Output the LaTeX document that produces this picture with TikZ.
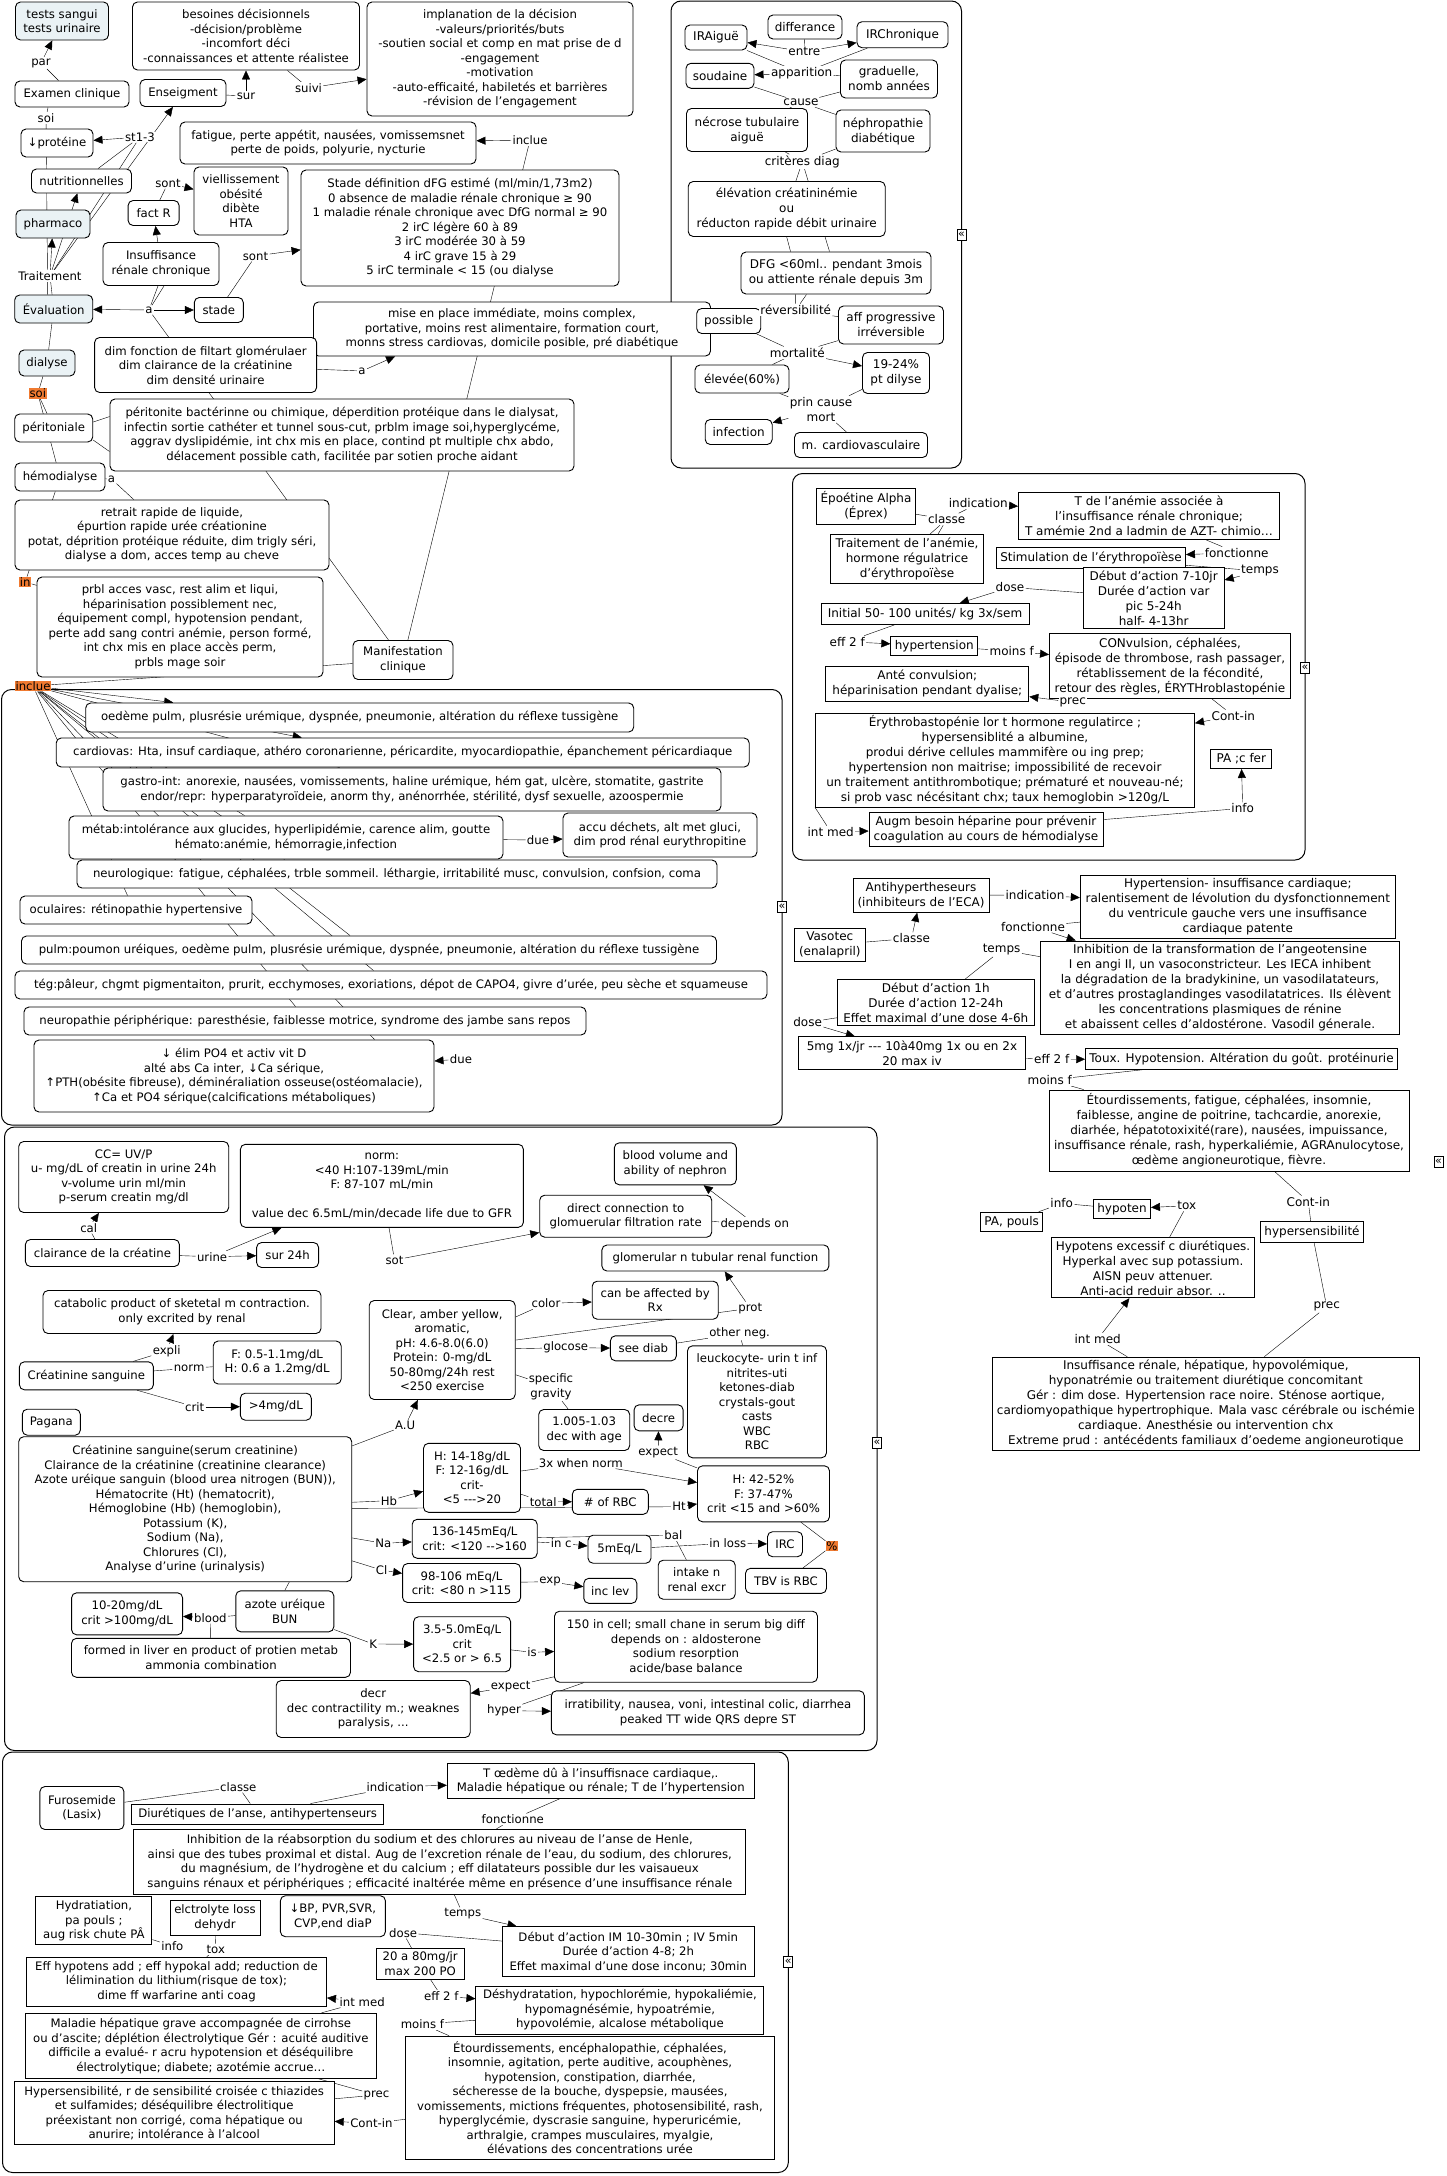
\documentclass[tikz,border=0pt]{standalone}
\usepackage{fontspec}
\setmainfont{DejaVu Sans}
\usetikzlibrary{arrows.meta}
\definecolor{evalfill}{RGB}{234,242,245}
\definecolor{orangehl}{RGB}{240,122,48}
\newcommand{\fA}{\fontsize{11.7}{14.5}\selectfont}
\newcommand{\fB}{\fontsize{12}{15}\selectfont}
\pgfdeclarelayer{panel}
\pgfdeclarelayer{edges}
\pgfsetlayers{panel,edges,main}
\tikzset{
  cpt/.style={draw, rounded corners=5pt, fill=white, align=center, inner xsep=3pt, inner ysep=2pt, line width=0.9pt, font=\fA},
  cptv/.style={cpt, font=\fB},
  sqa/.style={cpt, rounded corners=0pt},
  sqv/.style={cpt, rounded corners=0pt, font=\fB},
  grey/.style={fill=evalfill},
  sz/.style 2 args={minimum width=#1pt, minimum height=#2pt},
  lbl/.style={fill=white, inner sep=1pt, align=center, font=\fA},
  lblv/.style={lbl, font=\fB},
  hl/.style={fill=orangehl, inner sep=0.6pt, font=\fA},
  arr/.style={-{Triangle[length=9pt,width=8pt]}},
  panel/.style={draw, rounded corners=10pt, line width=1pt},
  coll/.style={draw, fill=white, line width=0.7pt, inner sep=0.5pt, minimum width=9pt, minimum height=11pt, font=\fontsize{11}{11}\selectfont},
}

\begin{document}
\begin{tikzpicture}[x=1pt, y=-1pt, line width=0.8pt]
\useasboundingbox (0,0) rectangle (1447,2176);

% evaluation / traitement
\node[cpt, grey, sz={93}{38}] (tests) at (62,21) {tests sangui\\tests urinaire};
\node[cpt, sz={227}{68}] (besoin) at (246,36) {besoines décisionnels\\-décision/problème\\-incomfort déci\\-connaissances et attente réalistee};
\node[cpt, sz={266}{114}] (implan) at (500,59) {implanation de la décision\\-valeurs/priorités/buts\\-soutien social et comp en mat prise de d\\-engagement\\-motivation\\-auto-efficaité, habiletés et barrières\\-révision de l'engagement};
\node[cpt, sz={114}{26}] (exam) at (72,94) {Examen clinique};
\node[cpt, sz={86}{27}] (enseig) at (183,93) {Enseigment};
\node[cpt, sz={72}{28}] (prot) at (57,143) {↓protéine};
\node[cpt, sz={100}{24}] (nutri) at (81.5,181) {nutritionnelles};
\node[cpt, grey, sz={74}{28}] (pharm) at (53,224) {pharmaco};
\node[cpt, sz={51}{25}] (factR) at (153.6,213) {fact R};
\node[cpt, sz={94}{68}] (viel) at (241,201) {viellissement\\obésité\\dibète\\HTA};
\node[cpt, sz={296}{42}] (fatigue) at (328,143) {fatigue, perte appétit, nausées, vomissemsnet\\perte de poids, polyurie, nycturie};
\node[cpt, sz={318}{116}] (stadedef) at (460,228) {Stade définition dFG estimé (ml/min/1,73m2)\\0 absence de maladie rénale chronique ≥ 90\\1 maladie rénale chronique avec DfG normal ≥ 90\\2 irC légère 60 à 89\\3 irC modérée 30 à 59\\4 irC grave 15 à 29\\5 irC terminale < 15 (ou dialyse};
\node[cpt, sz={116}{43}] (insuf) at (161,264) {Insuffisance\\rénale chronique};
\node[cpt, grey, sz={78}{28}] (eval) at (53.7,309) {Évaluation};
\node[cpt, sz={49}{25}] (stade) at (218.8,310) {stade};
\node[cpt, sz={397}{54}] (mise) at (512,329) {mise en place immédiate, moins complex,\\portative, moins rest alimentaire, formation court,\\monns stress cardiovas, domicile posible, pré diabétique};
\node[cpt, sz={222}{55}] (dimf) at (205.6,365) {dim fonction de filtart glomérulaer\\dim clairance de la créatinine\\dim densité urinaire};
\node[cpt, grey, sz={56}{26}] (dialyse) at (47,363) {dialyse};
\node[cpt, sz={78}{28}] (perito) at (53.7,428) {péritoniale};
\node[cpt, sz={464}{72}] (peri2) at (342,435) {péritonite bactérinne ou chimique, déperdition protéique dans le dialysat,\\infectin sortie cathéter et tunnel sous-cut, prblm image soi,hyperglycéme,\\aggrav dyslipidémie, int chx mis en place, contind pt multiple chx abdo,\\délacement possible cath, facilitée par sotien proche aidant};
\node[cpt, sz={90}{28}] (hemo) at (60,477) {hémodialyse};
\node[cpt, sz={314}{70}] (retrait) at (172,535) {retrait rapide de liquide,\\épurtion rapide urée créationine\\potat, déprition protéique réduite, dim trigly séri,\\dialyse a dom, acces temp au cheve};
\node[cpt, sz={286}{100}] (prbl) at (180,627) {prbl acces vasc, rest alim et liqui,\\héparinisation possiblement nec,\\équipement compl, hypotension pendant,\\perte add sang contri anémie, person formé,\\int chx mis en place accès perm,\\prbls mage soir};
\node[cpt, sz={100}{39}] (manif) at (403,660) {Manifestation\\clinique};
\node[lbl] (par) at (41,63) {par};
\node[lbl] (soi) at (46,118) {soi};
\node[lbl] (sur) at (246,96) {sur};
\node[lbl] (suivi) at (308.5,88) {suivi};
\node[lbl] (st13) at (140,137) {st1-3};
\node[lbl] (sontA) at (168,183) {sont};
\node[lbl] (sontB) at (255.5,256) {sont};
\node[lbl] (inclA) at (530,140) {inclue};
\node[lbl] (trait) at (50,276) {Traitement};
\node[lbl] (aA) at (149,310) {a};
\node[lbl] (aB) at (362,371) {a};
\node[lbl] (aC) at (111.5,479) {a};
\node[hl] (soiH) at (37.8,393.5) {soi};
\node[hl] (inH) at (25.3,582) {in};
\node[hl] (inclH) at (33,686) {inclue};

% manifestations
\node[cpt, sz={548}{29}] (oedeme) at (359.7,717.5) {oedème pulm, plusrésie urémique, dyspnée, pneumonie, altération du réflexe tussigène};
\node[cpt, sz={693}{29}] (cardio) at (402.7,752.5) {cardiovas: Hta, insuf cardiaque, athéro coronarienne, péricardite, myocardiopathie, épanchement péricardiaque};
\node[cpt, sz={618}{43}] (gastro) at (412,789.5) {gastro-int: anorexie, nausées, vomissements, haline urémique, hém gat, ulcère, stomatite, gastrite\\endor/repr: hyperparatyroïdeie, anorm thy, anénorrhée, stérilité, dysf sexuelle, azoospermie};
\node[cpt, sz={434}{43}] (metab) at (286,837.5) {métab:intolérance aux glucides, hyperlipidémie, carence alim, goutte\\hémato:anémie, hémorragie,infection};
\node[cpt, sz={194}{44}] (accu) at (660,835) {accu déchets, alt met gluci,\\dim prod rénal eurythropitine};
\node[cpt, sz={640}{28}] (neuro) at (397,874) {neurologique: fatigue, céphalées, trble sommeil. léthargie, irritabilité musc, convulsion, confsion, coma};
\node[cpt, sz={232}{28}] (ocul) at (136,910) {oculaires: rétinopathie hypertensive};
\node[cpt, sz={695}{28}] (pulm) at (369,950) {pulm:poumon uréiques, oedème pulm, plusrésie urémique, dyspnée, pneumonie, altération du réflexe tussigène};
\node[cpt, sz={752}{28}] (teg) at (391,985) {tég:pâleur, chgmt pigmentaiton, prurit, ecchymoses, exoriations, dépot de CAPO4, givre d'urée, peu sèche et squameuse};
\node[cpt, sz={562}{28}] (neurop) at (305,1021) {neuropathie périphérique: paresthésie, faiblesse motrice, syndrome des jambe sans repos};
\node[cpt, sz={400}{72}] (po4) at (234,1076) {↓ élim PO4 et activ vit D\\alté abs Ca inter, ↓Ca sérique,\\↑PTH(obésite fibreuse), déminéraliation osseuse(ostéomalacie),\\↑Ca et PO4 sérique(calcifications métaboliques)};
\node[lbl] (dueA) at (538,840) {due};
\node[lbl] (dueB) at (461,1059) {due};

% IR aigue / chronique
\node[cptv, sz={62}{25}] (IRA) at (716,37.5) {IRAiguë};
\node[cptv, sz={74}{24}] (differ) at (805,27) {differance};
\node[cptv, sz={91}{26}] (IRC) at (902.5,34.7) {IRChronique};
\node[cptv, sz={68}{25}] (soud) at (720,75.8) {soudaine};
\node[cptv, sz={97}{38}] (gradu) at (889,79) {graduelle,\\nomb années};
\node[cptv, sz={121}{43}] (necro) at (747,130) {nécrose tubulaire\\aiguë};
\node[cptv, sz={94}{42}] (nephro) at (883,131) {néphropathie\\diabétique};
\node[cptv, sz={197}{55}] (elev) at (786.7,209) {élévation créatininémie\\ou\\réducton rapide débit urinaire};
\node[cptv, sz={190}{42}] (dfg) at (836,273) {DFG <60ml.. pendant 3mois\\ou attiente rénale depuis 3m};
\node[cptv, sz={64}{25}] (possi) at (728.7,321) {possible};
\node[cptv, sz={105}{38}] (aff) at (891,325) {aff progressive\\irréversible};
\node[cptv, sz={94}{28}] (elevee) at (742,379) {élevée(60\%)};
\node[cptv, sz={67}{41}] (p1924) at (896,373) {19-24\%\\pt dilyse};
\node[cptv, sz={67}{25}] (infec) at (738.7,432) {infection};
\node[cptv, sz={133}{25}] (mcard) at (861,445) {m. cardiovasculaire};
\node[lblv] (entre) at (804.3,51.7) {entre};
\node[lblv] (appar) at (801.7,73.3) {apparition};
\node[lblv] (cause) at (801,102.3) {cause};
\node[lblv] (critC) at (802.3,161.7) {critères diag};
\node[lblv] (rever) at (795.7,310) {réversibilité};
\node[lblv] (mort) at (797.3,352.7) {mortalité};
\node[lblv] (prin) at (821,409.3) {prin cause\\mort};

% epoetine
\node[sqv, sz={99}{36}] (epo) at (866,506) {Époétine Alpha\\(Éprex)};
\node[sqv, sz={153}{49}] (eptrait) at (907,559) {Traitement de l’anémie,\\hormone régulatrice\\d’érythropoïèse};
\node[sqv, sz={261}{47}] (tanem) at (1149,516) {T de l’anémie associée à\\l’insuffisance rénale chronique;\\T amémie 2nd a ladmin de AZT- chimio…};
\node[sqv, sz={189}{21}] (stim) at (1091,558) {Stimulation de l’érythropoïèse};
\node[sqv, sz={141}{61}] (debut) at (1153.7,598) {Début d’action  7-10jr\\Durée d’action  var\\pic 5-24h\\half- 4-13hr};
\node[sqv, sz={208}{21}] (init) at (925,614) {Initial 50- 100 unités/ kg 3x/sem};
\node[sqv, sz={87}{19}] (hypert) at (934.3,646) {hypertension};
\node[sqv, sz={241}{65}] (convul) at (1170,666) {CONvulsion, céphalées,\\épisode de thrombose, rash passager,\\rétablissement de la fécondité,\\retour des règles, ÉRYTHroblastopénie};
\node[sqv, sz={203}{35}] (ante) at (927.3,683.5) {Anté convulsion;\\héparinisation pendant dyalise;};
\node[sqv, sz={379}{94}] (erythro) at (1005,760) {Érythrobastopénie lor t hormone regulatirce ;\\hypersensiblité a albumine,\\produi dérive cellules mammifère ou ing prep;\\hypertension non maitrise; impossibilité de recevoir\\un traitement antithrombotique; prématuré et nouveau-né;\\si prob vasc nécésitant chx; taux hemoglobin >120g/L};
\node[sqv, sz={61}{19}] (pafer) at (1241.3,759) {PA ;c fer};
\node[sqv, sz={234}{34}] (augm) at (986,829) {Augm besoin héparine pour prévenir\\coagulation au cours de hémodialyse};
\node[lblv] (classeD) at (946.7,519.3) {classe};
\node[lblv] (indicD) at (978.3,503.3) {indication};
\node[lblv] (fonctD) at (1236.7,552.7) {fonctionne};
\node[lblv] (tempsD) at (1260,571) {temps};
\node[lblv] (doseD) at (1010,587.3) {dose};
\node[lblv] (eff2fD) at (847.3,641.7) {eff 2 f};
\node[lblv] (moinsD) at (1011.7,651) {moins f};
\node[lblv] (precD) at (1072.7,702.3) {prec};
\node[lblv] (continD) at (1233.3,715.7) {Cont-in};
\node[lblv] (intmedD) at (830.7,831.7) {int med};
\node[lblv] (infoD) at (1242.7,808.3) {info};

% vasotec
\node[sqv, sz={136}{34}] (antih) at (921,895.3) {Antihypertheseurs\\(inhibiteurs de l’ECA)};
\node[sqv, sz={315}{63}] (hypten) at (1237.8,906.7) {Hypertension- insuffisance cardiaque;\\ralentisement de lévolution du dysfonctionnement\\du ventricule gauche vers une insuffisance\\cardiaque patente};
\node[sqv, sz={71}{33}] (vaso) at (829.8,945) {Vasotec\\(enalapril)};
\node[sqv, sz={359}{93}] (inhib) at (1220,987.5) {Inhibition de la transformation de l’angeotensine\\I en angi II, un vasoconstricteur. Les IECA inhibent\\la dégradation de la bradykinine, un vasodilatateurs,\\et d’autres prostaglandinges vasodilatatrices. Ils élèvent\\les concentrations plasmiques de rénine\\et abaissent celles d’aldostérone. Vasodil génerale.};
\node[sqv, sz={197}{46}] (debut2) at (935.8,1002.5) {Début d’action 1h\\Durée d’action  12-24h\\Effet maximal d’une dose  4-6h};
\node[sqv, sz={227}{33}] (m5mg) at (912,1053.3) {5mg 1x/jr -{}-{}- 10à40mg 1x ou en 2x\\20 max iv};
\node[sqv, sz={312}{21}] (toux) at (1241.5,1058.8) {Toux. Hypotension. Altération du goût. protéinurie};
\node[sqv, sz={360}{81}] (etourd) at (1229,1130.5) {Étourdissements, fatigue, céphalées, insomnie,\\faiblesse, angine de poitrine, tachcardie, anorexie,\\diarhée, hépatotoxixité(rare), nausées, impuissance,\\insuffisance rénale, rash, hyperkaliémie, AGRAnulocytose,\\œdème angioneurotique, fièvre.};
\node[sqv, sz={103}{21}] (hypers) at (1312,1232) {hypersensibilité};
\node[sqv, sz={57}{19}] (hypoten) at (1122,1208.8) {hypoten};
\node[sqv, sz={62}{19}] (papouls) at (1011.7,1221.7) {PA, pouls};
\node[sqv, sz={203}{60}] (hypotens) at (1153,1267.8) {Hypotens excessif c diurétiques.\\Hyperkal avec sup potassium.\\AISN peuv attenuer.\\Anti-acid reduir absor. ..};
\node[sqv, sz={427}{93}] (insuffE) at (1205.8,1403.7) {Insuffisance rénale, hépatique, hypovolémique,\\hyponatrémie ou traitement diurétique concomitant\\Gér : dim dose. Hypertension race noire. Sténose aortique,\\cardiomyopathique hypertrophique. Mala vasc cérébrale ou ischémie\\cardiaque. Anesthésie ou intervention chx\\Extreme prud : antécédents familiaux d’oedeme angioneurotique};
\node[lblv] (indicE) at (1035,895) {indication};
\node[lblv] (classeE) at (911.5,938.3) {classe};
\node[lblv] (fonctE) at (1033,926.7) {fonctionne};
\node[lblv] (tempsE) at (1001.6,950) {temps};
\node[lblv] (doseE) at (807.6,1022.3) {dose};
\node[lblv] (eff2fE) at (1051.8,1059.3) {eff 2 f};
\node[lblv] (moinsE) at (1049.7,1080) {moins f};
\node[lblv] (continE) at (1308.3,1201.7) {Cont-in};
\node[lblv] (precE) at (1326.7,1306.7) {prec};
\node[lblv] (toxE) at (1186.7,1205.7) {tox};
\node[lblv] (infoE) at (1061.7,1203.3) {info};
\node[lblv] (intmedE) at (1097.7,1339) {int med};

% tests de laboratoire
\node[cpt, sz={210}{71}] (cc) at (123.7,1177) {CC= UV/P\\u- mg/dL of creatin in urine 24h\\v-volume urin ml/min\\p-serum creatin mg/dl};
\node[cpt, sz={154}{27}] (clair) at (102.4,1253) {clairance de la créatine};
\node[cpt, sz={62}{25}] (sur24) at (287.6,1255) {sur 24h};
\node[cpt, sz={283}{83}] (normb) at (381.9,1185.8) {norm:\\<40 H:107-139mL/min\\F: 87-107 mL/min\\[14.5pt]value dec 6.5mL/min/decade life due to GFR};
\node[cpt, sz={172}{42}] (direct) at (625.7,1216.2) {direct connection to\\glomuerular filtration rate};
\node[cpt, sz={122}{42}] (bloodv) at (675.3,1163.8) {blood volume and\\ability of nephron};
\node[cpt, sz={227}{26}] (glom) at (715.4,1258) {glomerular n tubular renal function};
\node[cpt, sz={278}{43}] (catab) at (182,1312) {catabolic product of sketetal m contraction.\\only excrited by renal};
\node[cpt, sz={134}{28}] (creat) at (86.4,1375.8) {Créatinine sanguine};
\node[cpt, sz={128}{43}] (fbox) at (277.2,1362.5) {F: 0.5-1.1mg/dL\\H: 0.6 a 1.2mg/dL};
\node[cpt, sz={71}{27}] (gt4) at (275.8,1406.7) {>4mg/dL};
\node[cpt, sz={58}{26}] (pagana) at (51.3,1422.2) {Pagana};
\node[cpt, sz={146}{99}] (clear) at (442.2,1350) {Clear, amber yellow,\\aromatic,\\pH: 4.6-8.0(6.0)\\Protein: 0-mg/dL\\50-80mg/24h rest\\<250 exercise};
\node[cpt, sz={126}{38}] (canbe) at (655.2,1300.2) {can be affected by\\Rx};
\node[cpt, sz={66}{25}] (seediab) at (643.4,1348.3) {see diab};
\node[cpt, sz={139}{112}] (leuck) at (757,1401.8) {leuckocyte- urin t inf\\nitrites-uti\\ketones-diab\\crystals-gout\\casts\\WBC\\RBC};
\node[cpt, sz={91}{41}] (s1005) at (584.2,1430) {1.005-1.03\\dec with age};
\node[cpt, sz={49}{26}] (decre) at (658.6,1417.8) {decre};
\node[cpt, sz={333}{145}] (big) at (185.2,1509.2) {Créatinine sanguine(serum creatinine)\\Clairance de la créatinine (creatinine clearance)\\Azote uréique sanguin (blood urea nitrogen (BUN)),\\Hématocrite (Ht) (hematocrit),\\Hémoglobine (Hb) (hemoglobin),\\Potassium (K),\\Sodium (Na),\\Chlorures (Cl),\\Analyse d’urine (urinalysis)};
\node[cpt, sz={97}{69}] (h14) at (472,1477.8) {H: 14-18g/dL\\F: 12-16g/dL\\crit-\\<5 -{}-{}->20};
\node[cpt, sz={132}{56}] (h42) at (763.5,1493.8) {H: 42-52\%\\F: 37-47\%\\crit <15 and >60\%};
\node[cpt, sz={76}{25}] (rbc) at (610.3,1501.8) {\# of RBC};
\node[cpt, sz={81}{25}] (tbv) at (786,1580.8) {TBV is RBC};
\node[cpt, sz={125}{39}] (n136) at (474.7,1538.8) {136-145mEq/L\\crit: <120 -{}->160};
\node[cpt, sz={63}{28}] (m5) at (619.5,1549.2) {5mEq/L};
\node[cpt, sz={35}{25}] (irc) at (785,1544.2) {IRC};
\node[cpt, sz={77}{39}] (intake) at (696.7,1579.7) {intake n\\renal excr};
\node[cpt, sz={118}{39}] (c98) at (461.6,1583) {98-106 mEq/L\\crit: <80 n >115};
\node[cpt, sz={53}{25}] (inclev) at (610.3,1590.8) {inc lev};
\node[cpt, sz={98}{41}] (azote) at (284.8,1611.3) {azote uréique\\BUN};
\node[cpt, sz={111}{42}] (b1020) at (127.1,1613.8) {10-20mg/dL\\crit >100mg/dL};
\node[cpt, sz={279}{39}] (formed) at (211,1657.8) {formed in liver en product of protien metab\\ammonia combination};
\node[cpt, sz={97}{55}] (k35) at (462.1,1644.2) {3.5-5.0mEq/L\\crit\\<2.5 or > 6.5};
\node[cpt, sz={263}{71}] (c150) at (686,1646.7) {150 in cell; small chane in serum big diff\\depends on : aldosterone\\sodium resorption\\acide/base balance};
\node[cpt, sz={194}{57}] (decr) at (373.2,1709) {decr\\dec contractility m.; weaknes\\paralysis, ...};
\node[cpt, sz={313}{44}] (irrat) at (707.9,1712.8) {irratibility, nausea, voni, intestinal colic, diarrhea\\peaked TT wide QRS depre ST};
\node[lbl] (calF) at (88.7,1227.7) {cal};
\node[lbl] (urineF) at (212.1,1256.7) {urine};
\node[lbl] (sotF) at (394.5,1260) {sot};
\node[lbl] (depF) at (754.8,1224) {depends on};
\node[lbl] (protF) at (750.3,1308.3) {prot};
\node[lbl] (expliF) at (166.7,1351) {expli};
\node[lbl] (normF) at (189.1,1368.3) {norm};
\node[lbl] (critF) at (194.7,1406.7) {crit};
\node[lbl] (colorF) at (546,1303.3) {color};
\node[lbl] (glocF) at (565.7,1347.7) {glocose};
\node[lbl] (otherF) at (739.6,1333.3) {other neg.};
\node[lbl] (specF) at (551,1386.7) {specific\\gravity};
\node[lbl] (expF1) at (658.2,1452.7) {expect};
\node[lbl] (auF) at (405.2,1425.7) {A.U};
\node[lbl] (hbF) at (388.9,1500.7) {Hb};
\node[lbl] (x3F) at (580.8,1462.7) {3x when norm};
\node[lbl] (totalF) at (543.2,1501.7) {total};
\node[lbl] (htF) at (679,1506.7) {Ht};
\node[hl] (pctF) at (832,1545.8) {\%};
\node[lbl] (naF) at (383.3,1543.3) {Na};
\node[lbl] (incF) at (561.2,1543.3) {in c};
\node[lbl] (balF) at (673.4,1535) {bal};
\node[lbl] (inlossF) at (727.8,1543.3) {in loss};
\node[lbl] (clF) at (381.6,1570) {Cl};
\node[lbl] (expF) at (550,1581.7) {exp};
\node[lbl] (bloodF) at (210.4,1617.7) {blood};
\node[lbl] (kF) at (373.2,1644) {K};
\node[lbl] (isF) at (532,1652.3) {is};
\node[lbl] (expF2) at (510.7,1686.7) {expect};
\node[lbl] (hyperF) at (504,1710.7) {hyper};

% furosemide
\node[cpt, sz={84}{43}] (furo) at (81.9,1808) {Furosemide\\(Lasix)};
\node[sqa, sz={252}{20}] (diur) at (257.7,1814) {Diurétiques de l’anse, antihypertenseurs};
\node[sqa, sz={307}{35}] (toed) at (600.8,1780.8) {T œdème dû à l’insuffisnace cardiaque,.\\Maladie hépatique ou rénale; T de l’hypertension};
\node[sqa, sz={612}{65}] (inhib3) at (439.8,1861.8) {Inhibition de la réabsorption du sodium et des chlorures au niveau de l’anse de Henle,\\ainsi que des tubes proximal et distal. Aug de l’excretion rénale de l’eau, du sodium, des chlorures,\\du magnésium, de l’hydrogène et du calcium ; eff dilatateurs possible dur les vaisaueux\\sanguins rénaux et périphériques ; efficacité inaltérée même en présence d’une insuffisance rénale};
\node[cpt, sz={105}{41}] (bp) at (332.9,1916.2) {↓BP, PVR,SVR,\\CVP,end diaP};
\node[sqa, sz={116}{48}] (hydra) at (93.9,1920.8) {Hydratiation,\\pa pouls ;\\aug risk chute PÂ};
\node[sqa, sz={90}{35}] (elct) at (215,1917.5) {elctrolyte loss\\dehydr};
\node[sqa, sz={252}{50}] (debut3) at (628.3,1951.7) {Début d’action IM 10-30min ; IV 5min\\Durée d’action 4-8; 2h\\Effet maximal d’une dose inconu; 30min};
\node[sqa, sz={88}{31}] (d2080) at (420.2,1963.8) {20 a 80mg/jr\\max 200 PO};
\node[sqa, sz={300}{49}] (effhyp) at (176.5,1981.7) {Eff hypotens add ; eff hypokal add; reduction de\\lélimination du lithium(risque de tox);\\dime ff warfarine anti coag};
\node[sqa, sz={288}{48}] (deshy) at (619.9,2010) {Déshydratation, hypochlorémie, hypokaliémie,\\hypomagnésémie, hypoatrémie,\\hypovolémie, alcalose métabolique};
\node[sqa, sz={351}{65}] (maladie) at (200.8,2045.8) {Maladie hépatique grave accompagnée de cirrohse\\ou d’ascite; déplétion électrolytique Gér : acuité auditive\\difficile a evalué- r acru hypotension et déséquilibre\\électrolytique; diabete; azotémie accrue…};
\node[sqa, sz={320}{63}] (hyps) at (174.2,2113) {Hypersensibilité, r de sensibilité croisée c thiazides\\et sulfamides; déséquilibre électrolitique\\préexistant non corrigé, coma hépatique ou\\anurire; intolérance à l’alcool};
\node[sqa, sz={369}{123}] (etourd3) at (590,2097.7) {Étourdissements, encéphalopathie, céphalées,\\insomnie, agitation, perte auditive, acouphènes,\\hypotension, constipation, diarrhée,\\sécheresse de la bouche, dyspepsie, mausées,\\vomissements, mictions fréquentes, photosensibilité, rash,\\hyperglycémie, dyscrasie sanguine, hyperuricémie,\\arthralgie, crampes musculaires, myalgie,\\élévations des concentrations urée};
\node[lbl] (classeG) at (238.3,1786.7) {classe};
\node[lbl] (indicG) at (395.4,1786.7) {indication};
\node[lbl] (fonctG) at (512.8,1819.3) {fonctionne};
\node[lbl] (tempsG) at (462.8,1914) {temps};
\node[lbl] (doseG) at (403.1,1932.7) {dose};
\node[lbl] (eff2fG) at (441.3,1996) {eff 2 f};
\node[lbl] (moinsG) at (422.4,2024) {moins f};
\node[lbl] (infoG) at (172.4,1946) {info};
\node[lbl] (toxG) at (215.8,1949.3) {tox};
\node[lbl] (intmedG) at (362.2,2001.7) {int med};
\node[lbl] (precG) at (376.5,2095) {prec};
\node[lbl] (continG) at (371.4,2123.3) {Cont-in};

% collapse marks
\node[coll] (cm1) at (782,907) {«};
\node[coll] (cm2) at (961.5,235) {«};
\node[coll] (cm3) at (1305,668) {«};
\node[coll] (cm4) at (1438.5,1162) {«};
\node[coll] (cm5) at (877,1443) {«};
\node[coll] (cm6) at (788.3,1962) {«};

\begin{pgfonlayer}{panel}
\draw[panel] (1.5,689.5) rectangle (782,1125);
\draw[panel] (671,1) rectangle (961.5,468);
\draw[panel] (792.5,473.5) rectangle (1305,860);
\draw[panel] (4.5,1127) rectangle (877,1750.5);
\draw[panel] (2.5,1752) rectangle (788.3,2172.5);
\end{pgfonlayer}

\begin{pgfonlayer}{edges}
% top left
\draw (exam) -- (par);
\draw[arr] (par) -- (tests);
\draw ([xshift=-6pt]eval.north) -- (soi);
\draw (soi) -- ([xshift=-24pt]exam.south);
\draw (eval) -- (trait);
\draw[arr] (trait) -- (pharm);
\draw[arr] (trait) -- (nutri);
\draw[arr] (trait) -- (enseig);
\draw (trait) -- (st13);
\draw (nutri) -- (st13);
\draw[arr] (st13) -- (prot);
\draw[arr] (insuf) -- (factR);
\draw (factR) -- (sontA);
\draw[arr] (sontA) -- (viel);
\draw ([xshift=-3pt]insuf.south) -- (aA);
\draw ([xshift=3pt]insuf.south) -- (aA);
\draw[arr] (aA) -- (eval);
\draw[arr] (aA) -- (stade);
\draw (aA) -- (manif);
\draw (stade) -- (sontB);
\draw[arr] (sontB) -- (stadedef);
\draw (manif) -- (inclA);
\draw[arr] (inclA) -- (fatigue);
\draw (besoin) -- (suivi);
\draw[arr] (suivi) -- (implan);
\draw (enseig) -- (sur);
\draw[arr] (sur) -- (besoin);
\draw (eval) -- (dialyse);
\draw (dialyse) -- (soiH);
\draw (soiH) -- (perito);
\draw (soiH) -- (hemo);
\draw ([yshift=6pt]perito.east) -- ([yshift=-18pt]peri2.north west);
\draw ([yshift=-12pt]perito.east) -- ([yshift=-53pt]peri2.north west);
\draw (hemo) -- (aC);
\draw (aC) -- (retrait);
\draw (hemo) -- (inH);
\draw (inH) -- (prbl);
\draw (dimf) -- (aB);
\draw[arr] (aB) -- ([xshift=82pt]mise.south west);
\draw (manif) -- (inclH);
% fan of manifestations
\draw[arr] (inclH) -- ([xshift=88pt]oedeme.north west);
\draw[arr] (inclH) -- ([xshift=246pt]cardio.north west);
\draw (inclH) -- ([xshift=237pt]gastro.north west);
\draw (inclH) -- ([xshift=176pt]metab.north west);
\draw (inclH) -- ([xshift=208pt]neuro.north west);
\draw (inclH) -- ([xshift=108pt]ocul.north west);
\draw (inclH) -- ([xshift=329pt]pulm.north west);
\draw (inclH) -- ([xshift=359pt]teg.north west);
\draw (inclH) -- ([xshift=272pt]neurop.north west);
\draw (inclH) -- ([xshift=341pt]po4.north west);
\draw (metab) -- (dueA);
\draw[arr] (dueA) -- (accu);
\draw[arr] (dueB) -- (po4);
% IRA / IRC
\draw (differ) -- (entre);
\draw[arr] (entre) -- (IRA);
\draw[arr] (entre) -- (IRC);
\draw (IRA) -- (appar);
\draw (IRC) -- (appar);
\draw[arr] (appar) -- (soud);
\draw (appar) -- (gradu);
\draw (soud) -- (cause);
\draw (gradu) -- (cause);
\draw (cause) -- (necro);
\draw (cause) -- (nephro);
\draw (necro) -- (critC);
\draw (nephro) -- (critC);
\draw (critC) -- (elev);
\draw (critC) -- (dfg);
\draw (elev.south) -- ([xshift=50pt]dfg.north west);
\draw ([xshift=55pt]dfg.south west) -- (rever);
\draw ([xshift=66pt]dfg.south west) -- (rever);
\draw (rever) -- (possi);
\draw (rever) -- (aff);
\draw (possi) -- (mort);
\draw (aff) -- (mort);
\draw[arr] (mort) -- (p1924);
\draw (mort) -- (elevee);
\draw (elevee) -- (prin);
\draw (p1924) -- (prin);
\draw[arr] (prin) -- (infec);
\draw (prin) -- (mcard);
% epoetine
\draw (epo) -- (classeD);
\draw (classeD) -- ([xshift=100pt]eptrait.north west);
\draw (classeD) -- ([xshift=108pt]eptrait.north west);
\draw (classeD) -- (indicD);
\draw[arr] (indicD) -- (tanem);
\draw (tanem) -- (fonctD);
\draw[arr] (fonctD) -- (stim);
\draw (stim) -- (tempsD);
\draw[arr] (tempsD) -- (debut);
\draw (debut) -- (doseD);
\draw[arr] (doseD) -- (init);
\draw (init) -- (eff2fD);
\draw[arr] (eff2fD) -- (hypert);
\draw (hypert) -- (moinsD);
\draw[arr] (moinsD) -- (convul);
\draw[arr] (precD) -- (ante);
\draw (convul) -- (continD);
\draw[arr] (continD) -- (erythro);
\draw (erythro.south west) -- (intmedD);
\draw[arr] (intmedD) -- (augm);
\draw (augm) -- (infoD);
\draw[arr] (infoD) -- (pafer);
% vasotec
\draw (antih) -- (indicE);
\draw[arr] (indicE) -- (hypten);
\draw (vaso) -- (classeE);
\draw[arr] (classeE) -- (antih);
\draw (hypten) -- (fonctE);
\draw[arr] (fonctE) -- (inhib);
\draw (inhib) -- (tempsE);
\draw (tempsE) -- (debut2);
\draw (debut2) -- (doseE);
\draw[arr] (doseE) -- (m5mg);
\draw (m5mg) -- (eff2fE);
\draw[arr] (eff2fE) -- (toux);
\draw (toux) -- (moinsE);
\draw (moinsE) -- (etourd);
\draw (etourd) -- (continE);
\draw (continE) -- (hypers);
\draw (hypers) -- (precE);
\draw (precE) -- (insuffE);
\draw (insuffE) -- (intmedE);
\draw[arr] (intmedE) -- (hypotens);
\draw (hypotens) -- (toxE);
\draw[arr] (toxE) -- (hypoten);
\draw (hypoten) -- (infoE);
\draw (infoE) -- (papouls);
% tests
\draw (clair) -- (calF);
\draw[arr] (calF) -- (cc);
\draw (clair) -- (urineF);
\draw[arr] (urineF) -- (sur24);
\draw[arr] (urineF) -- (normb);
\draw (normb) -- (sotF);
\draw[arr] (sotF) -- (direct);
\draw (direct) -- (depF);
\draw[arr] (depF) -- (bloodv);
\draw (clear) -- (protF);
\draw[arr] (protF) -- (glom);
\draw (clear) -- (colorF);
\draw[arr] (colorF) -- (canbe);
\draw (clear) -- (glocF);
\draw[arr] (glocF) -- (seediab);
\draw (seediab) -- (otherF);
\draw (otherF) -- (leuck);
\draw (clear) -- (specF);
\draw (specF) -- (s1005);
\draw[arr] (expF1) -- (decre);
\draw (expF1) -- (h42);
\draw (big) -- (auF);
\draw[arr] (auF) -- (clear);
\draw (creat) -- (expliF);
\draw[arr] (expliF) -- (catab);
\draw (creat) -- (normF);
\draw (normF) -- (fbox);
\draw (creat) -- (critF);
\draw[arr] (critF) -- (gt4);
\draw (big) -- (hbF);
\draw[arr] (hbF) -- (h14);
\draw (h14) -- (x3F);
\draw[arr] (x3F) -- (h42);
\draw (h14) -- (totalF);
\draw[arr] (totalF) -- (rbc);
\draw (big) -- (htF);
\draw[arr] (htF) -- (h42);
\draw (h42) -- (pctF);
\draw (pctF) -- (tbv);
\draw (big) -- (naF);
\draw[arr] (naF) -- (n136);
\draw (n136) -- (incF);
\draw[arr] (incF) -- (m5);
\draw (n136) -- (balF);
\draw (balF) -- (intake);
\draw (m5) -- (inlossF);
\draw[arr] (inlossF) -- (irc);
\draw (big) -- (clF);
\draw[arr] (clF) -- (c98);
\draw (c98) -- (expF);
\draw[arr] (expF) -- (inclev);
\draw ([xshift=104pt]big.south) -- (azote.north);
\draw (azote) -- (bloodF);
\draw[arr] (bloodF) -- (b1020);
\draw (bloodF) -- (formed);
\draw (azote) -- (kF);
\draw[arr] (kF) -- (k35);
\draw (k35) -- (isF);
\draw[arr] (isF) -- (c150);
\draw (c150) -- (expF2);
\draw[arr] (expF2) -- (decr);
\draw (c150) -- (hyperF);
\draw[arr] (hyperF) -- (irrat);
% furosemide
\draw (furo) -- (classeG);
\draw (classeG) -- (diur);
\draw (diur) -- (indicG);
\draw[arr] (indicG) -- (toed);
\draw (toed) -- (fonctG);
\draw (fonctG) -- (inhib3);
\draw (inhib3) -- (tempsG);
\draw[arr] (tempsG) -- (debut3);
\draw (debut3) -- (doseG);
\draw (doseG) -- (d2080);
\draw (d2080) -- (eff2fG);
\draw[arr] (eff2fG) -- (deshy);
\draw (deshy) -- (moinsG);
\draw (moinsG) -- (etourd3);
\draw (hydra) -- (infoG);
\draw (elct) -- (toxG);
\draw (toxG) -- (effhyp);
\draw[arr] (intmedG) -- (effhyp);
\draw (intmedG) -- (maladie);
\draw (precG) -- (maladie);
\draw (precG) -- (hyps);
\draw[arr] (continG) -- (hyps);
\draw (continG) -- (etourd3);
\end{pgfonlayer}
\end{tikzpicture}
\end{document}
